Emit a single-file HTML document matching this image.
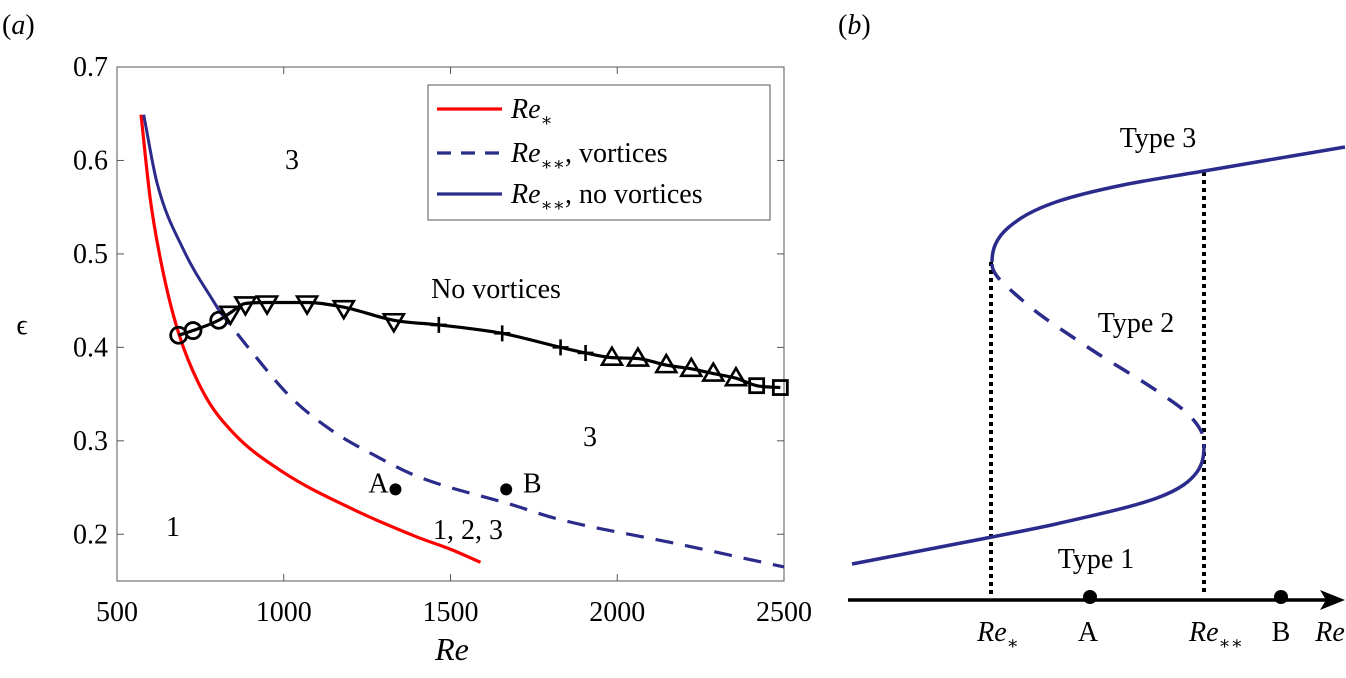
<!DOCTYPE html>
<html><head><meta charset="utf-8">
<style>
html,body{margin:0;padding:0;background:#fff;}
svg{display:block;}
svg text{font-family:"Liberation Serif","Times New Roman","DejaVu Serif",serif;}
</style></head>
<body>
<svg id="fig" width="1346" height="678" viewBox="0 0 1346 678">
<g id="pa"></g>
<g id="pb"></g>
</svg>
<script>
// ---- Panel (a) data ----
const xTicks = [500, 1000, 1500, 2000, 2500];
const yTicks = [0.2, 0.3, 0.4, 0.5, 0.6, 0.7];
const redRe  = [572, 600, 635, 685, 760, 850, 1000, 1200, 1400, 1500, 1590];
const redEps = [0.649, 0.558, 0.486, 0.415, 0.351, 0.308, 0.266, 0.228, 0.197, 0.184, 0.170];
const blueRe  = [580, 620, 700, 805];
const blueEps = [0.649, 0.576, 0.504, 0.44];
const dashRe  = [805, 900, 1020, 1140, 1280, 1400, 1690, 1815, 2191, 2500];
const dashEps = [0.44, 0.397, 0.347, 0.312, 0.283, 0.262, 0.231, 0.217, 0.189, 0.165];
const blkRe  = [685, 728, 805, 840, 885, 950, 1070, 1180, 1330, 1465, 1655, 1830, 1905, 1984, 2062, 2147, 2222, 2288, 2356, 2418, 2489];
const blkEps = [0.413, 0.418, 0.429, 0.437, 0.447, 0.448, 0.448, 0.443, 0.429, 0.424, 0.415, 0.40, 0.394, 0.389, 0.388, 0.381, 0.377, 0.372, 0.367, 0.359, 0.357];
const blkMark = ['o','o','o','v','v','v','v','v','v','+','+','+','+','^','^','^','^','^','^','s','s'];
const ptLabels = ['A','B'];
const ptRe  = [1335, 1667];
const ptEps = [0.248, 0.248];

const NS = 'http://www.w3.org/2000/svg';
const L = 117, R = 784, T = 67, B = 581;
const X = v => L + (v - 500) / 2000 * (R - L);
const Y = v => B - (v - 0.15) / 0.55 * (B - T);

function mk(parent, tag, attrs, text){
  const e = document.createElementNS(NS, tag);
  for (const k in attrs) e.setAttribute(k, attrs[k]);
  if (text !== undefined) e.textContent = text;
  parent.appendChild(e);
  return e;
}
// monotone cubic (Fritsch-Carlson); swap => t is y; z0/z1 => zero slope at start/end
function mono(t, v, swap, z0, z1){
  const n = t.length, d = [], m = [];
  for (let i = 0; i < n-1; i++) d.push((v[i+1]-v[i])/(t[i+1]-t[i]));
  m[0] = d[0]; m[n-1] = d[n-2];
  for (let i = 1; i < n-1; i++) m[i] = (d[i-1]*d[i] <= 0) ? 0 : (d[i-1]+d[i])/2;
  for (let i = 0; i < n-1; i++){
    if (d[i] === 0){ m[i] = 0; m[i+1] = 0; continue; }
    const a = m[i]/d[i], b = m[i+1]/d[i], s = a*a + b*b;
    if (s > 9){ const k = 3/Math.sqrt(s); m[i] = k*a*d[i]; m[i+1] = k*b*d[i]; }
  }
  if (z0) m[0] = 0;
  if (z1) m[n-1] = 0;
  const P = (tt, vv) => swap ? vv + ',' + tt : tt + ',' + vv;
  let p = 'M' + P(t[0], v[0]);
  for (let i = 0; i < n-1; i++){
    const h = (t[i+1]-t[i])/3;
    p += ' C' + P(t[i]+h, v[i]+m[i]*h) + ' ' + P(t[i+1]-h, v[i+1]-m[i+1]*h) + ' ' + P(t[i+1], v[i+1]);
  }
  return p;
}
const pa = document.getElementById('pa');

let e;
e = mk(pa, 'text', {x: 2, y: 34, 'font-size': 28}, '');
e.innerHTML = '(<tspan font-style="italic">a</tspan>)';



e = mk(pa, 'rect', {x: L, y: T, width: R-L, height: B-T, fill: 'none', stroke: '#555', 'stroke-width': 1});



xTicks.forEach(t => {
  const x = X(t);
  mk(pa, 'line', {x1: x, x2: x, y1: B, y2: B-7, stroke: '#555'});
  mk(pa, 'line', {x1: x, x2: x, y1: T, y2: T+7, stroke: '#555'});
  const tx = mk(pa, 'text', {x: x, y: 621, 'font-size': 28, 'text-anchor': 'middle'}, String(t));
  
  
});
yTicks.forEach(t => {
  const y = Y(t);
  mk(pa, 'line', {x1: L, x2: L+7, y1: y, y2: y, stroke: '#555'});
  mk(pa, 'line', {x1: R, x2: R-7, y1: y, y2: y, stroke: '#555'});
  const tx = mk(pa, 'text', {x: 108, y: y+9, 'font-size': 28, 'text-anchor': 'end'}, t.toFixed(1));
  
  
});
e = mk(pa, 'text', {x: 452, y: 660, 'font-size': 32, 'font-style': 'italic', 'text-anchor': 'middle'}, 'Re');


e = mk(pa, 'text', {x: 22, y: 334, 'font-size': 28, 'text-anchor': 'middle'}, 'ϵ');



e = mk(pa, 'path', {d: mono(redRe.map(X), redEps.map(Y)), fill: 'none', stroke: '#ff0000', 'stroke-width': 3.2});


e = mk(pa, 'path', {d: mono(blueRe.map(X), blueEps.map(Y)), fill: 'none', stroke: '#2b2b8c', 'stroke-width': 3});


e = mk(pa, 'path', {d: mono(dashRe.map(X), dashEps.map(Y)), fill: 'none', stroke: '#2b2b8c', 'stroke-width': 3.2, 'stroke-dasharray': '18,12'});


e = mk(pa, 'path', {d: mono(blkRe.map(X), blkEps.map(Y)), fill: 'none', stroke: '#000', 'stroke-width': 3.2});



blkRe.forEach((r,i) => {
  const x = X(r), y = Y(blkEps[i]), m = blkMark[i];
  let el;
  if (m === 'o') el = mk(pa, 'circle', {cx: x, cy: y, r: 8, fill: 'none', stroke: '#000', 'stroke-width': 2.8});
  else if (m === 'v') el = mk(pa, 'path', {d: `M${x-10},${y-6} L${x+10},${y-6} L${x},${y+11} Z`, fill: 'none', stroke: '#000', 'stroke-width': 2.6});
  else if (m === '^') el = mk(pa, 'path', {d: `M${x-10},${y+7} L${x+10},${y+7} L${x},${y-10} Z`, fill: 'none', stroke: '#000', 'stroke-width': 2.6});
  else if (m === 's') el = mk(pa, 'rect', {x: x-7, y: y-7, width: 14, height: 14, fill: 'none', stroke: '#000', 'stroke-width': 2.8});
  else el = mk(pa, 'path', {d: `M${x-8},${y} L${x+8},${y} M${x},${y-8} L${x},${y+8}`, stroke: '#000', 'stroke-width': 2.6});
  
  
});

ptRe.forEach((r,i) => {
  const c = mk(pa, 'circle', {cx: X(r), cy: Y(ptEps[i]), r: 6, fill: '#000'});
  
  
  const t = mk(pa, 'text', {x: i === 0 ? X(r)-17 : X(r)+26, y: Y(ptEps[i])+3, 'font-size': 28, 'text-anchor': 'middle'}, ptLabels[i]);
  
  
});

[['3',292,169],['No vortices',496,298],['3',590,446],['1',173,536],['1, 2, 3',468,539]].forEach(a => {
  const t = mk(pa, 'text', {x: a[1], y: a[2], 'font-size': 28, 'text-anchor': 'middle'}, a[0]);
  
  
});

e = mk(pa, 'rect', {x: 428, y: 85, width: 342, height: 135, fill: '#fff', stroke: '#555', 'stroke-width': 1});


const legY = [109, 153, 194];
const legStroke = ['#ff0000', '#2b2b8c', '#2b2b8c'];
const legDash = ['none', '14,10', 'none'];
const legTxt = ['<tspan font-style="italic">Re</tspan><tspan font-size="18" dy="8">∗</tspan>',
  '<tspan font-style="italic">Re</tspan><tspan font-size="18" dy="8">∗∗</tspan><tspan dy="-8">, vortices</tspan>',
  '<tspan font-style="italic">Re</tspan><tspan font-size="18" dy="8">∗∗</tspan><tspan dy="-8">, no vortices</tspan>'];
legY.forEach((y,i) => {
  const l = mk(pa, 'line', {x1: 437, x2: 502, y1: y, y2: y, stroke: legStroke[i], 'stroke-width': 3.2, 'stroke-dasharray': legDash[i]});
  
  
  const t = mk(pa, 'text', {x: 511, y: y+9, 'font-size': 28});
  t.innerHTML = legTxt[i];
  
  
});

// ---- Panel (b) schematic ----
const pb = document.getElementById('pb');
const upperY = [262, 227, 202, 185, 171, 147];
const upperX = [992, 1009, 1056, 1123, 1204, 1345];
const midY = [264, 300, 348, 391, 416, 442];
const midX = [992, 1022, 1089, 1157, 1190, 1204];
const lowY = [444, 472, 498, 524, 537, 564];
const lowX = [1204, 1197, 1157, 1056, 992, 852];

e = mk(pb, 'text', {x: 838, y: 34, 'font-size': 28}, '');
e.innerHTML = '(<tspan font-style="italic">b</tspan>)';



e = mk(pb, 'line', {x1: 991, x2: 991, y1: 262, y2: 596, stroke: '#000', 'stroke-width': 4, 'stroke-dasharray': '4,4'});


e = mk(pb, 'line', {x1: 1204, x2: 1204, y1: 172, y2: 596, stroke: '#000', 'stroke-width': 4, 'stroke-dasharray': '4,4'});



e = mk(pb, 'path', {d: mono(upperY, upperX, true, true, false), fill: 'none', stroke: '#2b2b8c', 'stroke-width': 3.5});


e = mk(pb, 'path', {d: mono(midY, midX, true, true, true), fill: 'none', stroke: '#2b2b8c', 'stroke-width': 3.5, 'stroke-dasharray': '18,14'});


e = mk(pb, 'path', {d: mono(lowY, lowX, true, true, false), fill: 'none', stroke: '#2b2b8c', 'stroke-width': 3.5});



e = mk(pb, 'line', {x1: 848, x2: 1330, y1: 600, y2: 600, stroke: '#000', 'stroke-width': 3.5});


e = mk(pb, 'path', {d: 'M1345,600 L1320,590 L1326,600 L1320,610 Z', fill: '#000'});


[[1090,'point-a-schematic'],[1281,'point-b-schematic']].forEach(p => {
  const c = mk(pb, 'circle', {cx: p[0], cy: 597, r: 7, fill: '#000'});
  
  
});
[['Type 3',1158,147],['Type 2',1136,332],['Type 1',1096,568]].forEach(a => {
  const t = mk(pb, 'text', {x: a[1], y: a[2], 'font-size': 28, 'text-anchor': 'middle'}, a[0]);
  
  
});
const bl = [
  [998, '<tspan font-style="italic">Re</tspan><tspan font-size="18" dy="8">∗</tspan>'],
  [1088, 'A'],
  [1216, '<tspan font-style="italic">Re</tspan><tspan font-size="18" dy="8">∗∗</tspan>'],
  [1281, 'B'],
  [1330, '<tspan font-style="italic">Re</tspan>']];
bl.forEach(a => {
  const t = mk(pb, 'text', {x: a[0], y: 641, 'font-size': 28, 'text-anchor': 'middle'});
  t.innerHTML = a[1];
  
  
});
</script>
</body></html>
